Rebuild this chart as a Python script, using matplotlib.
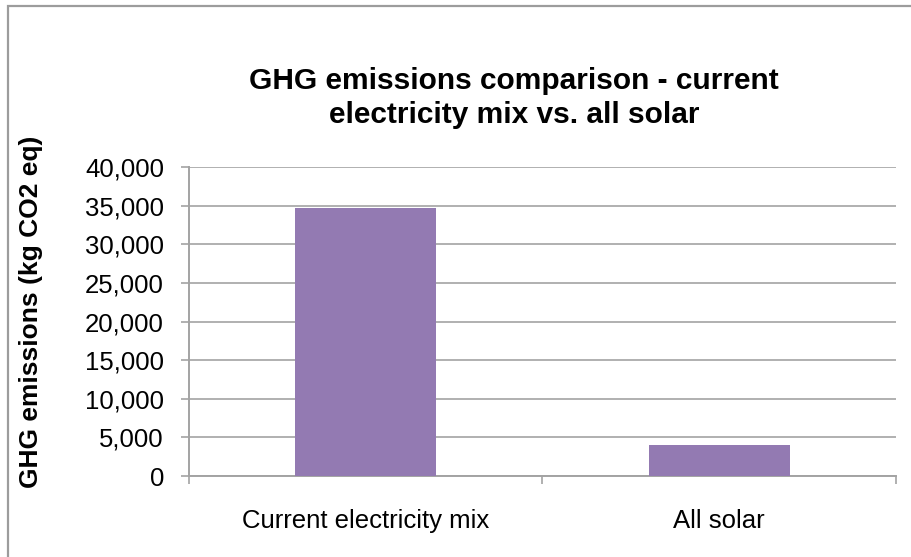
import matplotlib
matplotlib.use('Agg')
import matplotlib.pyplot as plt
from matplotlib.patches import Rectangle
from matplotlib.ticker import FuncFormatter, FixedLocator

# ── Data ─────────────────────────────────────────────────────
scenarios = ["Current electricity mix", "All solar"]
emissions = [34700, 4050]          # kg CO2 eq
y_ticks   = [0, 5000, 10000, 15000, 20000, 25000, 30000, 35000, 40000]

BAR   = '#937ab2'
GRID  = '#a3a3a3'
FRAME = '#9c9c9c'

plt.rcParams['font.family'] = ['Liberation Sans', 'DejaVu Sans']

fig = plt.figure(figsize=(9.12, 5.57), dpi=100)
fig.patch.set_facecolor('white')

# chart-area frame (runs off the right and bottom edge)
fig.patches.append(Rectangle((8 / 912, -0.05), 1.2, 1.05 - 6 / 557,
                             transform=fig.transFigure, fill=False,
                             edgecolor=FRAME, lw=1.6, zorder=0))

ax = fig.add_axes([189 / 912, 1 - 476 / 557, (896 - 189) / 912, (476 - 167) / 557])

x = list(range(len(scenarios)))
ax.bar(x, emissions, width=0.40, color=BAR, zorder=3)

ax.set_xlim(-0.5, len(scenarios) - 0.5)
ax.set_ylim(0, 40000)
ax.set_yticks(y_ticks)
ax.yaxis.set_major_formatter(FuncFormatter(lambda v, p: f"{int(v):,}"))
ax.grid(axis='y', color=GRID, lw=1.2, zorder=0)

# category boundaries as ticks, names centred beneath each bar
ax.xaxis.set_major_locator(FixedLocator([i - 0.5 for i in range(len(scenarios) + 1)]))
ax.xaxis.set_major_formatter(FuncFormatter(lambda v, p: ""))
ax.set_xticks(x, minor=True)
ax.set_xticklabels(scenarios, minor=True)
ax.tick_params(axis='x', which='major', length=6, width=1.2, color=GRID)
ax.tick_params(axis='x', which='minor', length=0, pad=24, labelsize=18.5)
ax.tick_params(axis='y', length=6, width=1.2, color=GRID, pad=12, labelsize=18.5)

for s in ['top', 'right']:
    ax.spines[s].set_visible(False)
for s in ['left', 'bottom']:
    ax.spines[s].set_color(GRID)
    ax.spines[s].set_linewidth(1.4)

fig.text(31 / 912, 1 - 312 / 557, "GHG emissions (kg CO2 eq)", rotation=90,
         ha='center', va='center', fontsize=19, fontweight='bold')
fig.text(514 / 912, 1 - 98 / 557,
         "GHG emissions comparison - current\nelectricity mix vs. all solar",
         ha='center', va='center', fontsize=21.5, fontweight='bold',
         linespacing=1.3)

plt.savefig('out.png', dpi=100, facecolor='white')
